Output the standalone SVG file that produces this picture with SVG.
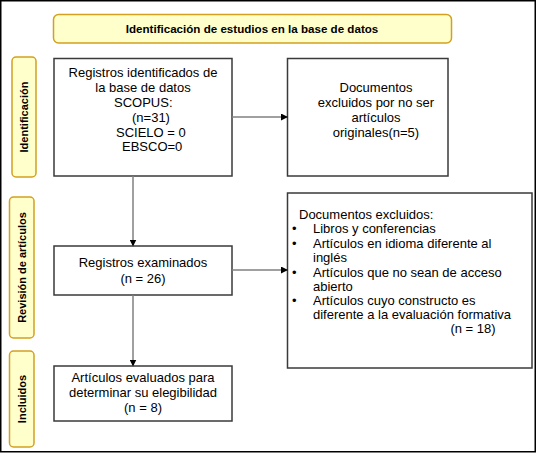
<svg xmlns="http://www.w3.org/2000/svg" width="537" height="453" viewBox="0 0 537 453">
<defs>
<marker id="ah" markerWidth="7" markerHeight="7" refX="6" refY="3.5" orient="auto" markerUnits="userSpaceOnUse">
<path d="M0,0 L7,3.5 L0,7 Z" fill="#000"/>
</marker>
<style>
.frame{fill:#fff;stroke:#000;stroke-width:1.5}
.phase{fill:#ffffcc;stroke:#d4a020;stroke-width:1.5}
.box{fill:#fff;stroke:#3a3a3a;stroke-width:1.5}
.t{font-family:"Liberation Sans",Arial,sans-serif;font-size:13px;fill:#000}
.c{text-anchor:middle}
.b{font-family:"Liberation Sans",Arial,sans-serif;font-size:11px;font-weight:bold;fill:#000;text-anchor:middle}
.conn{stroke:#808080;stroke-width:1.5;fill:none}
</style>
</defs>
<rect class="frame" x="0.75" y="0.75" width="534.5" height="451"/>
<g id="title">
<rect class="phase" x="53.5" y="14.5" width="398" height="28.5" rx="5"/>
<text class="b" x="252" y="32.5" style="font-size:11.6px">Identificación de estudios en la base de datos</text>
</g>
<g id="phase-identificacion">
<rect class="phase" x="12" y="57" width="24" height="120" rx="4"/>
<text class="b" transform="translate(28,117) rotate(-90)">Identificación</text>
</g>
<g id="phase-revision">
<rect class="phase" x="9.5" y="197" width="24.5" height="141" rx="4"/>
<text class="b" transform="translate(25.5,267.5) rotate(-90)">Revisión de artículos</text>
</g>
<g id="phase-incluidos">
<rect class="phase" x="9.5" y="351" width="24.5" height="96" rx="4"/>
<text class="b" transform="translate(25.5,399) rotate(-90)">Incluidos</text>
</g>
<g id="registros-identificados">
<rect class="box" x="54" y="58.5" width="178" height="117.5"/>
<text class="t c" x="143" y="77">Registros identificados de</text>
<text class="t c" x="143" y="92">la base de datos</text>
<text class="t" x="114" y="107">SCOPUS:</text>
<text class="t" x="132" y="122">(n=31)</text>
<text class="t" x="116" y="137">SCIELO = 0</text>
<text class="t" x="122" y="151">EBSCO=0</text>
</g>
<g id="excluidos-originales">
<rect class="box" x="287.5" y="58.5" width="160.5" height="117.5"/>
<text class="t c" x="376" y="92">Documentos</text>
<text class="t c" x="376" y="107">excluidos por no ser</text>
<text class="t c" x="376" y="122">artículos</text>
<text class="t c" x="376" y="137">originales(n=5)</text>
</g>
<g id="registros-examinados">
<rect class="box" x="54" y="246" width="178" height="49"/>
<text class="t c" x="143" y="267">Registros examinados</text>
<text class="t c" x="143" y="283">(n = 26)</text>
</g>
<g id="excluidos-criterios">
<rect class="box" x="287.5" y="193" width="244.5" height="175"/>
<text class="t" x="299" y="219">Documentos excluidos:</text>
<text class="t" x="292" y="233">•</text>
<text class="t" x="313" y="233">Libros y conferencias</text>
<text class="t" x="292" y="248">•</text>
<text class="t" x="313" y="248">Artículos en idioma diferente al</text>
<text class="t" x="313" y="262">inglés</text>
<text class="t" x="292" y="277">•</text>
<text class="t" x="313" y="277">Artículos que no sean de acceso</text>
<text class="t" x="313" y="291">abierto</text>
<text class="t" x="292" y="305">•</text>
<text class="t" x="313" y="305">Artículos cuyo constructo es</text>
<text class="t" x="313" y="319">diferente a la evaluación formativa</text>
<text class="t c" x="473" y="333">(n = 18)</text>
</g>
<g id="articulos-evaluados">
<rect class="box" x="54" y="366" width="178" height="55"/>
<text class="t c" x="143" y="382">Artículos evaluados para</text>
<text class="t c" x="143" y="397">determinar su elegibilidad</text>
<text class="t c" x="143" y="412">(n = 8)</text>
</g>
<g id="connectors">
<line class="conn" x1="232" y1="117" x2="287" y2="117" marker-end="url(#ah)"/>
<line class="conn" x1="133" y1="176" x2="133" y2="245.5" marker-end="url(#ah)"/>
<line class="conn" x1="232" y1="270" x2="287" y2="270" marker-end="url(#ah)"/>
<line class="conn" x1="133" y1="295" x2="133" y2="365.5" marker-end="url(#ah)"/>
</g>
</svg>
